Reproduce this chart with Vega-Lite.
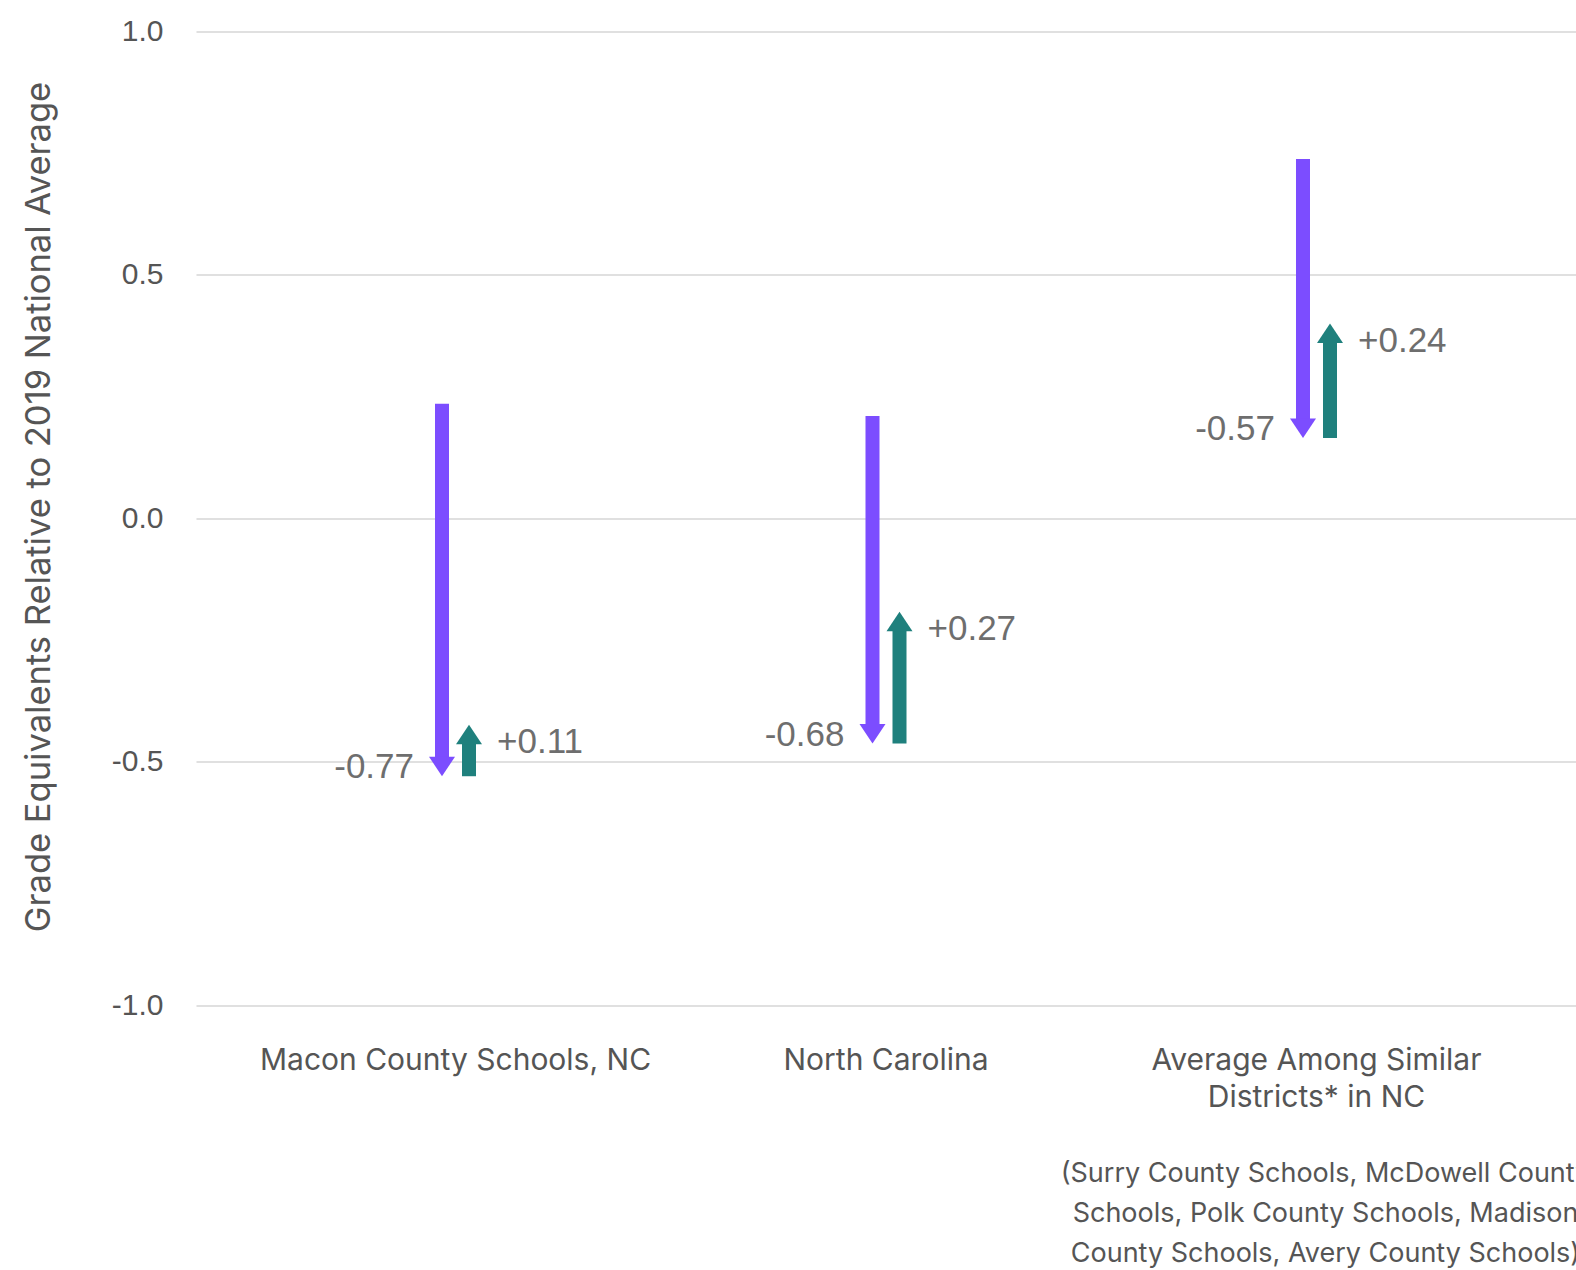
{
  "$schema": "https://vega.github.io/schema/vega-lite/v6.json",
  "width": 1380,
  "height": 973.5,
  "autosize": "none",
  "padding": {"left": 196, "top": 31.5, "right": 0, "bottom": 265},
  "background": "white",
  "config": {"view": {"stroke": null}, "font": "Liberation Sans"},
  "data": {
    "values": [
      {"district": "Macon County Schools, NC", "series": "decline", "start": 0.235, "end": -0.53, "label": "-0.77"},
      {"district": "Macon County Schools, NC", "series": "recovery", "start": -0.53, "end": -0.424, "label": "+0.11"},
      {"district": "North Carolina", "series": "decline", "start": 0.21, "end": -0.463, "label": "-0.68"},
      {"district": "North Carolina", "series": "recovery", "start": -0.463, "end": -0.192, "label": "+0.27"},
      {"district": "Average Among Similar Districts* in NC", "series": "decline", "start": 0.738, "end": 0.165, "label": "-0.57"},
      {"district": "Average Among Similar Districts* in NC", "series": "recovery", "start": 0.165, "end": 0.40, "label": "+0.24"}
    ]
  },
  "encoding": {
    "x": {
      "field": "district",
      "type": "nominal",
      "sort": null,
      "scale": {
        "domain": ["Macon County Schools, NC", "North Carolina", "Average Among Similar Districts* in NC"],
        "paddingInner": 0,
        "paddingOuter": 0.1028
      },
      "axis": {
        "title": null,
        "labelAngle": 0,
        "domain": false,
        "ticks": false,
        "tickSize": 0,
        "grid": false,
        "labelPadding": 40,
        "labelFont": "Inter",
        "labelFontSize": 30,
        "labelColor": "#555555",
        "labelLimit": 0,
        "labelLineHeight": 37,
        "labelBaseline": "top",
        "labelExpr": "datum.value == 'Average Among Similar Districts* in NC' ? ['Average Among Similar', 'Districts* in NC'] : datum.value"
      }
    }
  },
  "layer": [
    {
      "transform": [{"filter": "datum.series == 'decline'"}],
      "mark": {"type": "rule", "color": "#7c4dff", "strokeWidth": 14, "strokeCap": "butt", "xOffset": -13.5, "y2Offset": -19},
      "encoding": {
        "y": {
          "field": "start",
          "type": "quantitative",
          "scale": {"domain": [-1, 1], "nice": false, "zero": false},
          "axis": {
            "title": "Grade Equivalents Relative to 2019 National Average",
            "values": [-1, -0.5, 0, 0.5, 1],
            "labelExpr": "replace(format(datum.value, '.1f'), '\u2212', '-')",
            "grid": true,
            "gridColor": "#e0e0e0",
            "gridWidth": 2,
            "domain": false,
            "ticks": false,
            "tickSize": 0,
            "labelPadding": 33,
            "labelFont": "Liberation Sans",
            "labelFontSize": 30,
            "labelColor": "#555555",
            "titleFont": "Inter",
            "titleFontSize": 34.5,
            "titleFontWeight": "normal",
            "titleColor": "#555555",
            "titleAngle": -90,
            "titleX": -157,
            "titleY": 475,
            "titleAlign": "center",
            "titleBaseline": "middle"
          }
        },
        "y2": {"field": "end"}
      }
    },
    {
      "transform": [{"filter": "datum.series == 'recovery'"}],
      "mark": {"type": "rule", "color": "#1f807d", "strokeWidth": 14, "strokeCap": "butt", "xOffset": 13.5, "y2Offset": 19},
      "encoding": {
        "y": {"field": "start", "type": "quantitative"},
        "y2": {"field": "end"}
      }
    },
    {
      "transform": [{"filter": "datum.series == 'decline'"}],
      "mark": {"type": "point", "shape": "M-1,-1.5L1,-1.5L0,0Z", "size": 676, "filled": true, "opacity": 1, "color": "#7c4dff", "strokeWidth": 0, "xOffset": -13.5},
      "encoding": {
        "y": {"field": "end", "type": "quantitative"}
      }
    },
    {
      "transform": [{"filter": "datum.series == 'recovery'"}],
      "mark": {"type": "point", "shape": "M-1,1.5L1,1.5L0,0Z", "size": 676, "filled": true, "opacity": 1, "color": "#1f807d", "strokeWidth": 0, "xOffset": 13.5},
      "encoding": {
        "y": {"field": "end", "type": "quantitative"}
      }
    },
    {
      "transform": [{"filter": "datum.series == 'decline'"}],
      "mark": {"type": "text", "align": "right", "baseline": "middle", "xOffset": -13.5, "dx": -28, "dy": -9, "font": "Liberation Sans", "fontSize": 35, "color": "#6e6e6e"},
      "encoding": {
        "y": {"field": "end", "type": "quantitative"},
        "text": {"field": "label"}
      }
    },
    {
      "transform": [{"filter": "datum.series == 'recovery'"}],
      "mark": {"type": "text", "align": "left", "baseline": "middle", "xOffset": 13.5, "dx": 28, "dy": 17.5, "font": "Liberation Sans", "fontSize": 35, "color": "#6e6e6e"},
      "encoding": {
        "y": {"field": "end", "type": "quantitative"},
        "text": {"field": "label"}
      }
    },
    {
      "data": {
        "values": [
          {"district": "Average Among Similar Districts* in NC", "note": "(Surry County Schools, McDowell County|Schools, Polk County Schools, Madison|County Schools, Avery County Schools)"}
        ]
      },
      "mark": {"type": "text", "align": "center", "baseline": "alphabetic", "dx": 9, "lineBreak": "|", "lineHeight": 40, "font": "Inter", "fontSize": 27, "color": "#555555", "clip": false},
      "encoding": {
        "y": {"datum": -1.3636},
        "text": {"field": "note"}
      }
    }
  ]
}
